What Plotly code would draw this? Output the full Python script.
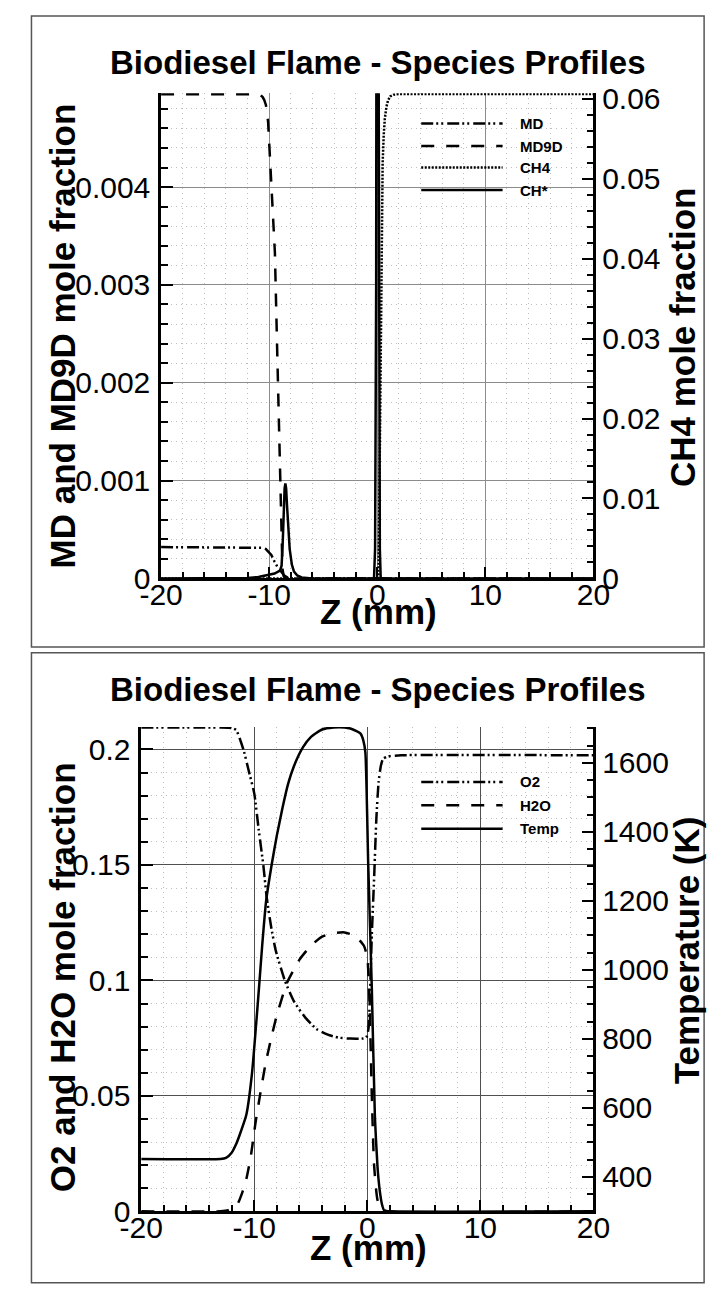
import plotly.graph_objects as go

W, H = 723, 1289

# ---------------- Panel 1 data (Z in mm) ----------------
md_z = [-20, -14, -11.5, -11.0, -10.6, -10.3, -10.0, -9.8, -9.5, -9.2, -8.9, -8.6, -8.3, -8.0, 20]
md_v = [0.00032, 0.00032, 0.00032, 0.000318, 0.000313, 0.0003, 0.00027, 0.00024, 0.00017, 0.00011,
        0.00007, 0.00003, 0.000008, 0.0, 0.0]

md9d_z = [-20, -12, -11.0, -10.8, -10.6, -10.45, -10.3, -10.1, -9.9, -9.7, -9.47, -9.25, -9.04,
          -8.9, -8.77, -8.65, -8.5, 20]
md9d_v = [0.00495, 0.00495, 0.00495, 0.00494, 0.00492, 0.00489, 0.00484, 0.00467, 0.0042, 0.0038,
          0.00333, 0.0023, 0.0013, 0.0006, 0.0001, 0.00002, 0.0, 0.0]

ch4_z = [-20, 0.0, 0.1, 0.15, 0.2, 0.25, 0.3, 0.35, 0.4, 0.5, 0.6, 0.7, 0.85, 1.0, 1.2, 1.5, 2.0, 20]
ch4_v = [0.0, 0.0, 0.0, 0.004, 0.011, 0.021, 0.031, 0.039, 0.045, 0.052, 0.0555, 0.0575, 0.0590,
         0.0598, 0.0603, 0.0605, 0.0606, 0.0606]

chs_z = [-20, -13.0, -12.0, -11.0, -10.0, -9.5, -9.0, -8.85, -8.75, -8.65, -8.57, -8.5, -8.43,
         -8.35, -8.25, -8.1, -7.9, -7.7, -7.4, -7.0, -6.0, -0.3, -0.2, -0.1, -0.02, 0.08, 0.16,
         0.24, 0.32, 20]
chs_v = [0.0, 0.0, 0.000004, 0.000015, 0.000035, 0.00005, 0.00008, 0.00013, 0.00035, 0.00072,
         0.00092, 0.00097, 0.00092, 0.00075, 0.00052, 0.0003, 0.00014, 0.00007, 0.00003, 0.00001,
         0.0, 0.0, 0.0003, 0.003, 0.012, 0.012, 0.003, 0.0003, 0.0, 0.0]

# ---------------- Panel 2 data ----------------
o2_z = [-20, -13, -12.0, -11.6, -11.3, -10.9, -10.5, -10.0, -9.6, -9.2, -8.9, -8.5, -8.1, -7.3,
        -6.5, -5.5, -4.5, -3.5, -2.5, -1.5, -0.5, -0.1, 0.1, 0.25, 0.4, 0.6, 0.8, 1.0, 1.2, 1.4,
        1.8, 3.0, 20]
o2_v = [0.2095, 0.2095, 0.2093, 0.2085, 0.205, 0.199, 0.191, 0.181, 0.165, 0.150, 0.136, 0.123,
        0.113, 0.100, 0.091, 0.084, 0.079, 0.0765, 0.0752, 0.0748, 0.0748, 0.0752, 0.079, 0.096,
        0.12, 0.144, 0.170, 0.186, 0.193, 0.196, 0.197, 0.1975, 0.1975]

h2o_z = [-20, -13, -12.3, -11.5, -11.0, -10.7, -10.3, -9.9, -9.5, -9.0, -8.5, -8.0, -7.1, -6.0,
         -5.0, -4.0, -3.0, -2.0, -1.0, -0.3, 0.0, 0.2, 0.4, 0.6, 0.9, 1.3, 1.8, 20]
h2o_v = [0.0, 0.0, 0.0005, 0.003, 0.009, 0.014, 0.024, 0.038, 0.050, 0.064, 0.075, 0.085, 0.099,
         0.109, 0.115, 0.119, 0.1205, 0.1208, 0.119, 0.115, 0.110, 0.090, 0.050, 0.020, 0.005,
         0.001, 0.0, 0.0]

temp_z = [-20, -13, -12.5, -12.0, -11.6, -11.2, -10.7, -10.2, -9.6, -9.3, -8.95, -8.45, -8.0,
          -7.5, -7.0, -6.5, -5.7, -5.0, -4.0, -3.0, -2.0, -1.5, -1.0, -0.6, -0.35, -0.17, 0.08,
          0.4, 0.67, 0.9, 1.1, 1.3, 1.5, 2.0, 20]
temp_v = [452, 452, 455, 470, 495, 530, 580, 700, 940, 1070, 1200, 1307, 1390, 1470, 1540, 1590,
          1645, 1675, 1697, 1703, 1703, 1700, 1693, 1685, 1665, 1630, 1307, 944, 575, 430, 360,
          320, 302, 300, 300]

x_ticks = [-20, -10, 0, 10, 20]
y1_ticks = [0, 0.001, 0.002, 0.003, 0.004]
y1_labels = ["0", "0.001", "0.002", "0.003", "0.004"]
y2_ticks = [0, 0.01, 0.02, 0.03, 0.04, 0.05, 0.06]
y2_labels = ["0", "0.01", "0.02", "0.03", "0.04", "0.05", "0.06"]
y3_ticks = [0, 0.05, 0.1, 0.15, 0.2]
y3_labels = ["0", "0.05", "0.1", "0.15", "0.2"]
y4_ticks = [400, 600, 800, 1000, 1200, 1400, 1600]

DDOT = "12px,3px,2px,3px,2px,4px"
DASH = "13px,12px"
DOT = "2px,1.5px"
LW = 2.5
MINOR_GRID = "#bdbdbd"
MINOR_DASH = "1px,4px"

fig = go.Figure()
fig.add_trace(go.Scatter(x=md_z, y=md_v, mode="lines", xaxis="x", yaxis="y",
                         line=dict(color="black", width=LW, dash=DDOT), name="MD"))
fig.add_trace(go.Scatter(x=md9d_z, y=md9d_v, mode="lines", xaxis="x", yaxis="y",
                         line=dict(color="black", width=LW, dash=DASH), name="MD9D"))
fig.add_trace(go.Scatter(x=ch4_z, y=ch4_v, mode="lines", xaxis="x", yaxis="y2",
                         line=dict(color="black", width=LW, dash=DOT), name="CH4"))
fig.add_trace(go.Scatter(x=chs_z, y=chs_v, mode="lines", xaxis="x", yaxis="y",
                         line=dict(color="black", width=LW), name="CH*"))

fig.add_trace(go.Scatter(x=o2_z, y=o2_v, mode="lines", xaxis="x2", yaxis="y3",
                         line=dict(color="black", width=LW, dash=DDOT, shape="spline", smoothing=0.5),
                         name="O2"))
fig.add_trace(go.Scatter(x=h2o_z, y=h2o_v, mode="lines", xaxis="x2", yaxis="y3",
                         line=dict(color="black", width=LW, dash=DASH, shape="spline", smoothing=0.5),
                         name="H2O"))
fig.add_trace(go.Scatter(x=temp_z, y=temp_v, mode="lines", xaxis="x2", yaxis="y4",
                         line=dict(color="black", width=LW, shape="spline", smoothing=0.5),
                         name="Temp"))

FONT = "Liberation Sans, Arial, Helvetica, sans-serif"


def xaxis(domain, anchor, grid):
    return dict(domain=domain, anchor=anchor, range=[-20, 20], tickvals=x_ticks,
                ticktext=[str(v) for v in x_ticks], ticks="inside", ticklen=12, tickwidth=2,
                tickcolor="black", showline=True, linewidth=2.5, linecolor="black",
                showgrid=True, gridcolor=grid, gridwidth=1, zeroline=False,
                tickfont=dict(family=FONT, size=30, color="black"), ticklabelstandoff=-12,
                minor=dict(dtick=2, tick0=0, ticks="inside", ticklen=7, tickwidth=1.5,
                           tickcolor="black", showgrid=True, gridcolor=MINOR_GRID,
                           griddash=MINOR_DASH, gridwidth=1),
                fixedrange=True)


def yaxis(domain, anchor, rng, tv, tt, minor_dtick, side="left", grid=None, overlaying=None,
          standoff=2):
    d = dict(domain=domain, anchor=anchor, range=rng, tickvals=tv, ticktext=tt,
             ticks="inside", ticklen=12, tickwidth=2, tickcolor="black", side=side,
             showline=True, linewidth=2.5, linecolor="black", zeroline=False,
             tickfont=dict(family=FONT, size=30, color="black"), ticklabelstandoff=standoff,
             fixedrange=True)
    if grid:
        d.update(showgrid=True, gridcolor=grid, gridwidth=1,
                 minor=dict(dtick=minor_dtick, tick0=0, ticks="inside", ticklen=7, tickwidth=1.5,
                            tickcolor="black", showgrid=True, gridcolor=MINOR_GRID,
                            griddash=MINOR_DASH, gridwidth=1))
    else:
        d.update(showgrid=False,
                 minor=dict(dtick=minor_dtick, tick0=0, ticks="inside", ticklen=7, tickwidth=1.5,
                            tickcolor="black", showgrid=False))
    if overlaying:
        d["overlaying"] = overlaying
    return d


def px(x):
    return x / W


def py(y):
    return 1 - y / H


dom_x1 = [px(147), px(604)]
dom_y1 = [py(580), py(84)]
dom_x2 = [px(126), px(604)]
dom_y2 = [py(1227), py(732)]

fig.update_layout(
    width=W, height=H, margin=dict(l=0, r=0, t=0, b=0),
    paper_bgcolor="white", plot_bgcolor="white", showlegend=False,
    font=dict(family=FONT, size=30, color="black"),
    xaxis=xaxis(dom_x1, "y", "#8c8c8c"),
    yaxis=yaxis(dom_y1, "x", [0, 0.00496], y1_ticks, y1_labels, 0.0002, grid="#8c8c8c"),
    yaxis2=yaxis(dom_y1, "x", [0, 0.0607], y2_ticks, y2_labels, 0.002, side="right",
                 overlaying="y", standoff=0),
    xaxis2=xaxis(dom_x2, "y3", "#505050"),
    yaxis3=yaxis(dom_y2, "x2", [0, 0.2097], y3_ticks, y3_labels, 0.01, grid="#505050"),
    yaxis4=yaxis(dom_y2, "x2", [300, 1704], y4_ticks, [str(v) for v in y4_ticks], 50,
                 side="right", overlaying="y3", standoff=0),
)

shapes = [
    dict(type="rect", xref="paper", yref="paper", x0=px(10), x1=px(721), y0=py(650), y1=py(5),
         line=dict(color="#555555", width=1.5), fillcolor="rgba(0,0,0,0)", layer="below"),
    dict(type="rect", xref="paper", yref="paper", x0=px(10), x1=px(721), y0=py(1300), y1=py(656),
         line=dict(color="#555555", width=1.5), fillcolor="rgba(0,0,0,0)", layer="below"),
]
annotations = []

legend1 = [("MD", DDOT, 115), ("MD9D", DASH, 138), ("CH4", DOT, 160), ("CH*", "solid", 183)]
legend2 = [("O2", DDOT, 788), ("H2O", DASH, 812), ("Temp", "solid", 836)]
for name, dash, yy in legend1 + legend2:
    shapes.append(dict(type="line", xref="paper", yref="paper", x0=px(422), x1=px(508),
                       y0=py(yy), y1=py(yy), line=dict(color="black", width=LW, dash=dash)))
    annotations.append(dict(xref="paper", yref="paper", x=px(524), y=py(yy), xanchor="left",
                            yanchor="middle", text="<b>%s</b>" % name, showarrow=False,
                            font=dict(family=FONT, size=15, color="black")))

title = "<b>Biodiesel Flame - Species Profiles</b>"
for yy in (53, 694):
    annotations.append(dict(xref="paper", yref="paper", x=px(376), y=py(yy), xanchor="center",
                            yanchor="middle", text=title, showarrow=False,
                            font=dict(family=FONT, size=33, color="black")))
for xx, yy in ((377, 614), (366, 1264)):
    annotations.append(dict(xref="paper", yref="paper", x=px(xx), y=py(yy), xanchor="center",
                            yanchor="middle", text="<b>Z (mm)</b>", showarrow=False,
                            font=dict(family=FONT, size=35, color="black")))

axis_titles = [("MD and MD9D mole fraction", 43, 332), ("CH4 mole fraction", 698, 333),
               ("O2 and H2O mole fraction", 43, 988), ("Temperature (K)", 702, 960)]
for txt, xx, yy in axis_titles:
    annotations.append(dict(xref="paper", yref="paper", x=px(xx), y=py(yy), xanchor="center",
                            yanchor="middle", text="<b>%s</b>" % txt, showarrow=False,
                            textangle=-90, font=dict(family=FONT, size=35, color="black")))

fig.update_layout(shapes=shapes, annotations=annotations)
fig.write_html("out.html")
